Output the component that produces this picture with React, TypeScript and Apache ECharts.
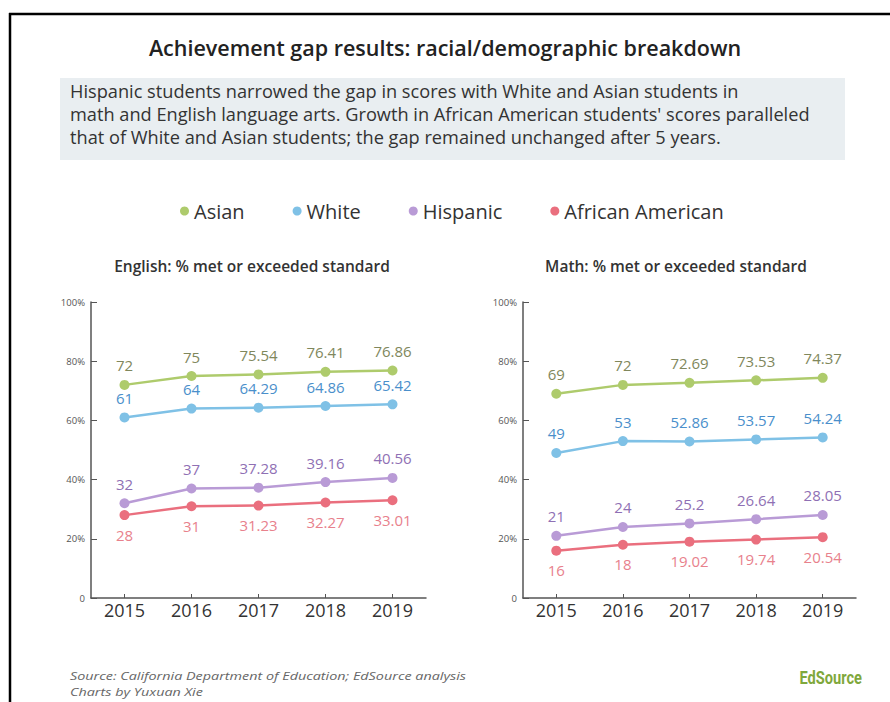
import React, { useEffect, useRef } from "react";
import * as echarts from "echarts";

const years = ["2015", "2016", "2017", "2018", "2019"];
const groups = ["Asian", "White", "Hispanic", "African American"];

const englishAsian = [72, 75, 75.54, 76.41, 76.86];
const englishWhite = [61, 64, 64.29, 64.86, 65.42];
const englishHispanic = [32, 37, 37.28, 39.16, 40.56];
const englishAfricanAmerican = [28, 31, 31.23, 32.27, 33.01];

const mathAsian = [69, 72, 72.69, 73.53, 74.37];
const mathWhite = [49, 53, 52.86, 53.57, 54.24];
const mathHispanic = [21, 24, 25.2, 26.64, 28.05];
const mathAfricanAmerican = [16, 18, 19.02, 19.74, 20.54];

const yTicks = [0, 20, 40, 60, 80, 100];

const lineColors = ["#aecb6c", "#7fc1e6", "#b99bd6", "#ea6f7e"];
const labelColors = ["#80875c", "#4a8fcb", "#8f70b4", "#e8818c"];
const labelPos = ["top", "top", "top", "bottom"];

const titleText = "Achievement gap results: racial/demographic breakdown";
const subtitleLines = [
  "Hispanic students narrowed the gap in scores with White and Asian students in",
  "math and English language arts. Growth in African American students' scores paralleled",
  "that of White and Asian students; the gap remained unchanged after 5 years.",
];
const chartTitles = ["English: % met or exceeded standard", "Math: % met or exceeded standard"];
const footerLines = ["Source: California Department of Education; EdSource analysis", "Charts by Yuxuan Xie"];

const FONT = "'Open Sans', 'Noto Sans', sans-serif";

export default function App() {
  const ref = useRef<HTMLDivElement>(null);
  useEffect(() => {
    if (!ref.current) return;
    const chart = echarts.init(ref.current, undefined, { renderer: "svg" });
    const english = [englishAsian, englishWhite, englishHispanic, englishAfricanAmerican];
    const math = [mathAsian, mathWhite, mathHispanic, mathAfricanAmerican];

    const makeSeries = (sets: number[][], idx: number) =>
      sets.map((d, i) => ({
        name: groups[i],
        type: "line",
        xAxisIndex: idx,
        yAxisIndex: idx,
        data: d,
        symbol: "circle",
        symbolSize: 10,
        lineStyle: { width: 2.5, color: lineColors[i] },
        itemStyle: { color: lineColors[i] },
        label: {
          show: true,
          position: labelPos[i],
          distance: 7,
          color: labelColors[i],
          fontSize: 15,
          fontFamily: FONT,
        },
      }));

    const xAxis = (idx: number) => ({
      type: "category",
      gridIndex: idx,
      data: years,
      boundaryGap: true,
      axisLine: { lineStyle: { color: "#555", width: 1.5 } },
      axisTick: { show: true, inside: true, alignWithLabel: true, length: 4, lineStyle: { color: "#555" } },
      axisLabel: { color: "#333", fontSize: 18, fontWeight: 500, fontFamily: FONT, margin: 3 },
    });
    const yAxis = (idx: number) => ({
      type: "value",
      gridIndex: idx,
      min: 0,
      max: 100,
      interval: 20,
      splitLine: { show: false },
      axisLine: { show: true, lineStyle: { color: "#555", width: 1.5 } },
      axisTick: { show: true, inside: true, length: 6, lineStyle: { color: "#555" } },
      axisLabel: {
        color: "#555",
        fontSize: 9.5,
        fontFamily: FONT,
        margin: 6,
        formatter: (v: number) => (yTicks.includes(v) ? (v === 0 ? "0" : v + "%") : ""),
      },
    });

    const centerText = (x: number, y: number, text: string, extra: any) => ({
      type: "text",
      x,
      y,
      style: { text, align: "center", verticalAlign: "middle", fontFamily: FONT, ...extra },
    });

    chart.setOption({
      animation: false,
      backgroundColor: "#ffffff",
      legend: {
        left: 175,
        top: 196,
        icon: "circle",
        itemWidth: 9,
        itemHeight: 9,
        itemGap: 48,
        data: groups,
        textStyle: { fontSize: 20, color: "#333", fontFamily: FONT },
      },
      grid: [
        { left: 91, top: 302, width: 335, height: 296 },
        { left: 523, top: 302, width: 333, height: 296 },
      ],
      xAxis: [xAxis(0), xAxis(1)],
      yAxis: [yAxis(0), yAxis(1)],
      series: [...makeSeries(english, 0), ...makeSeries(math, 1)],
      graphic: [
        { type: "line", shape: { x1: 9, y1: 14, x2: 890, y2: 14 }, style: { stroke: "#000", lineWidth: 2.5 } },
        { type: "line", shape: { x1: 10, y1: 13, x2: 10, y2: 702 }, style: { stroke: "#000", lineWidth: 2.5 } },
        centerText(445, 47, titleText, { fontSize: 21.5, fontWeight: 600, fill: "#222" }),
        { type: "rect", shape: { x: 60, y: 78, width: 785, height: 82 }, style: { fill: "#e9eef1" } },
        ...subtitleLines.map((t, i) => ({
          type: "text",
          x: 70,
          y: 91 + i * 23,
          style: {
            text: t,
            align: "left",
            verticalAlign: "middle",
            fontSize: 18.2,
            fontFamily: FONT,
            fill: "#333",
          },
        })),
        centerText(252, 266, chartTitles[0], { fontSize: 15.5, fontWeight: 600, fill: "#333" }),
        centerText(676, 266, chartTitles[1], { fontSize: 15.5, fontWeight: 600, fill: "#333" }),
        ...footerLines.map((t, i) => ({
          type: "text",
          x: 70,
          y: 676 + i * 16,
          scaleX: 1.25,
          style: {
            text: t,
            align: "left",
            verticalAlign: "middle",
            fontSize: 11.5,
            fontStyle: "italic",
            fontFamily: FONT,
            fill: "#666",
          },
        })),
        {
          type: "text",
          x: 862,
          y: 677,
          scaleX: 0.77,
          style: {
            text: "EdSource",
            align: "right",
            verticalAlign: "middle",
            fontSize: 19,
            fontWeight: 700,
            fontFamily: "Roboto, sans-serif",
            fill: "#7fa83c",
          },
        },
      ],
    });
    return () => chart.dispose();
  }, []);
  return <div ref={ref} style={{ position: "fixed", left: 0, top: 0, width: 890, height: 702 }} />;
}
